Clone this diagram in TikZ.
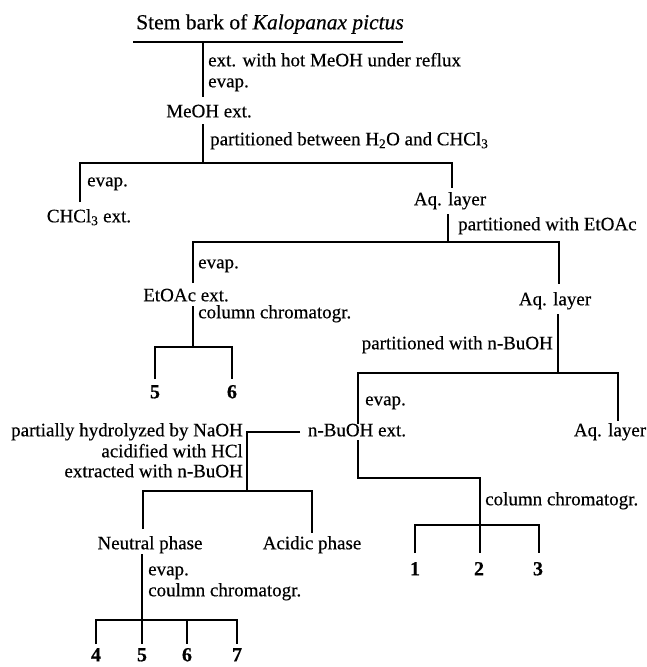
\documentclass[tikz,border=0pt]{standalone}
\usepackage{fontspec}
\setmainfont{Liberation Serif}[FakeBold=0.4]
\begin{document}
\begin{tikzpicture}[x=1pt,y=-1pt,
  link/.style={line width=1.7pt},
  txt/.style={inner sep=0pt, font=\fontsize{19}{21}\selectfont},
  prod/.style={inner sep=0pt, font=\fontsize{20}{22}\selectfont\bfseries},
  titlestyle/.style={inner sep=0pt, font=\fontsize{21.5}{24}\selectfont}]
\useasboundingbox (0,0) rectangle (646,667);

% ---------- nodes ----------
\node[titlestyle, anchor=mid] (title) at (270,27) {Stem bark of \textit{Kalopanax pictus}};
\node[txt, anchor=mid] (meoh) at (209,115) {MeOH ext.};
\node[txt, anchor=mid] (chcl) at (89,220) {CHCl\textsubscript{3} ext.};
\node[txt, anchor=mid] (aq1) at (450,203) {Aq. layer};
\node[txt, anchor=mid] (etoac) at (186,299) {EtOAc ext.};
\node[txt, anchor=mid] (aq2) at (555,303) {Aq. layer};
\node[prod, anchor=mid] (p5a) at (155,396) {5};
\node[prod, anchor=mid] (p6a) at (232,396) {6};
\node[txt, anchor=mid] (nbuoh) at (357,434) {n-BuOH ext.};
\node[txt, anchor=mid] (aq3) at (610,434) {Aq. layer};
\node[txt, anchor=mid] (neutral) at (150,547) {Neutral phase};
\node[txt, anchor=mid] (acidic) at (312,547) {Acidic phase};
\node[prod, anchor=mid] (p1) at (415,573) {1};
\node[prod, anchor=mid] (p2) at (479,573) {2};
\node[prod, anchor=mid] (p3) at (538,573) {3};
\node[prod, anchor=mid] (p4) at (96,659) {4};
\node[prod, anchor=mid] (p5b) at (142,659) {5};
\node[prod, anchor=mid] (p6b) at (187,659) {6};
\node[prod, anchor=mid] (p7) at (237,659) {7};

% ---------- step labels ----------
\node[txt, anchor=mid west] (s1) at (208,64) {ext. with hot MeOH under reflux};
\node[txt, anchor=mid west] (s2) at (208,85) {evap.};
\node[txt, anchor=mid west] (s3) at (210,143) {partitioned between H\textsubscript{2}O and CHCl\textsubscript{3}};
\node[txt, anchor=mid west] (s4) at (87,184) {evap.};
\node[txt, anchor=mid west] (s5) at (458,228) {partitioned with EtOAc};
\node[txt, anchor=mid west] (s6) at (198,266) {evap.};
\node[txt, anchor=mid west] (s7) at (198,316) {column chromatogr.};
\node[txt, anchor=mid east] (s8) at (553,347) {partitioned with n-BuOH};
\node[txt, anchor=mid west] (s9) at (365,403) {evap.};
\node[txt, anchor=mid east] (s10) at (243,434) {partially hydrolyzed by NaOH};
\node[txt, anchor=mid east] (s11) at (243,455) {acidified with HCl};
\node[txt, anchor=mid east] (s12) at (243,475) {extracted with n-BuOH};
\node[txt, anchor=mid west] (s13) at (485,503) {column chromatogr.};
\node[txt, anchor=mid west] (s14) at (148,573) {evap.};
\node[txt, anchor=mid west] (s15) at (148,594) {coulmn chromatogr.};

% ---------- junction coordinates ----------
\coordinate (u1) at (133,42); \coordinate (u2) at (403,42);
\coordinate (a0) at (203,42); \coordinate (a1) at (203,97);
\coordinate (b0) at (203,124); \coordinate (b1) at (203,163);
\coordinate (bl) at (80,163); \coordinate (br) at (452,163);
\coordinate (bl2) at (80,202); \coordinate (br2) at (452,188);
\coordinate (c0) at (448,214); \coordinate (c1) at (448,242);
\coordinate (cl) at (193,242); \coordinate (cr) at (559,242);
\coordinate (cl2) at (193,283); \coordinate (cr2) at (559,284);
\coordinate (d0) at (193,306); \coordinate (d1) at (193,347);
\coordinate (dl) at (155,347); \coordinate (dr) at (232,347);
\coordinate (dl2) at (155,379); \coordinate (dr2) at (232,379);
\coordinate (e0) at (558,314); \coordinate (e1) at (558,373);
\coordinate (el) at (358,373); \coordinate (er) at (618,373);
\coordinate (el2) at (358,424); \coordinate (er2) at (618,421);
\coordinate (f0) at (300,432); \coordinate (f1) at (247,432);
\coordinate (f2) at (247,491);
\coordinate (fl) at (143,491); \coordinate (fr) at (312,491);
\coordinate (fl2) at (143,529); \coordinate (fr2) at (312,533);
\coordinate (g0) at (358,440); \coordinate (g1) at (358,478);
\coordinate (g2) at (480,478); \coordinate (g3) at (480,525);
\coordinate (gl) at (415,525); \coordinate (gr) at (539,525);
\coordinate (gl2) at (415,553); \coordinate (gm2) at (480,553); \coordinate (gr2) at (539,553);
\coordinate (h0) at (142,554); \coordinate (h1) at (142,620);
\coordinate (hl) at (96,620); \coordinate (hr) at (237,620);
\coordinate (hl2) at (96,644); \coordinate (hm2) at (142,644);
\coordinate (h3) at (187,620); \coordinate (h32) at (187,644);
\coordinate (hr2) at (237,644);

% ---------- connectors ----------
\draw[link] (u1) -- (u2);
\draw[link] (a0) -- (a1);
\draw[link] (b0) -- (b1);
\draw[link] (bl2) -- (bl) -- (br) -- (br2);
\draw[link] (c0) -- (c1);
\draw[link] (cl2) -- (cl) -- (cr) -- (cr2);
\draw[link] (d0) -- (d1);
\draw[link] (dl2) -- (dl) -- (dr) -- (dr2);
\draw[link] (e0) -- (e1);
\draw[link] (el2) -- (el) -- (er) -- (er2);
\draw[link] (f0) -- (f1) -- (f2);
\draw[link] (fl2) -- (fl) -- (fr) -- (fr2);
\draw[link] (g0) -- (g1) -- (g2) -- (gm2);
\draw[link] (gl2) -- (gl) -- (gr) -- (gr2);
\draw[link] (h0) -- (hm2);
\draw[link] (hl2) -- (hl) -- (hr) -- (hr2);
\draw[link] (h3) -- (h32);
\end{tikzpicture}
\end{document}
